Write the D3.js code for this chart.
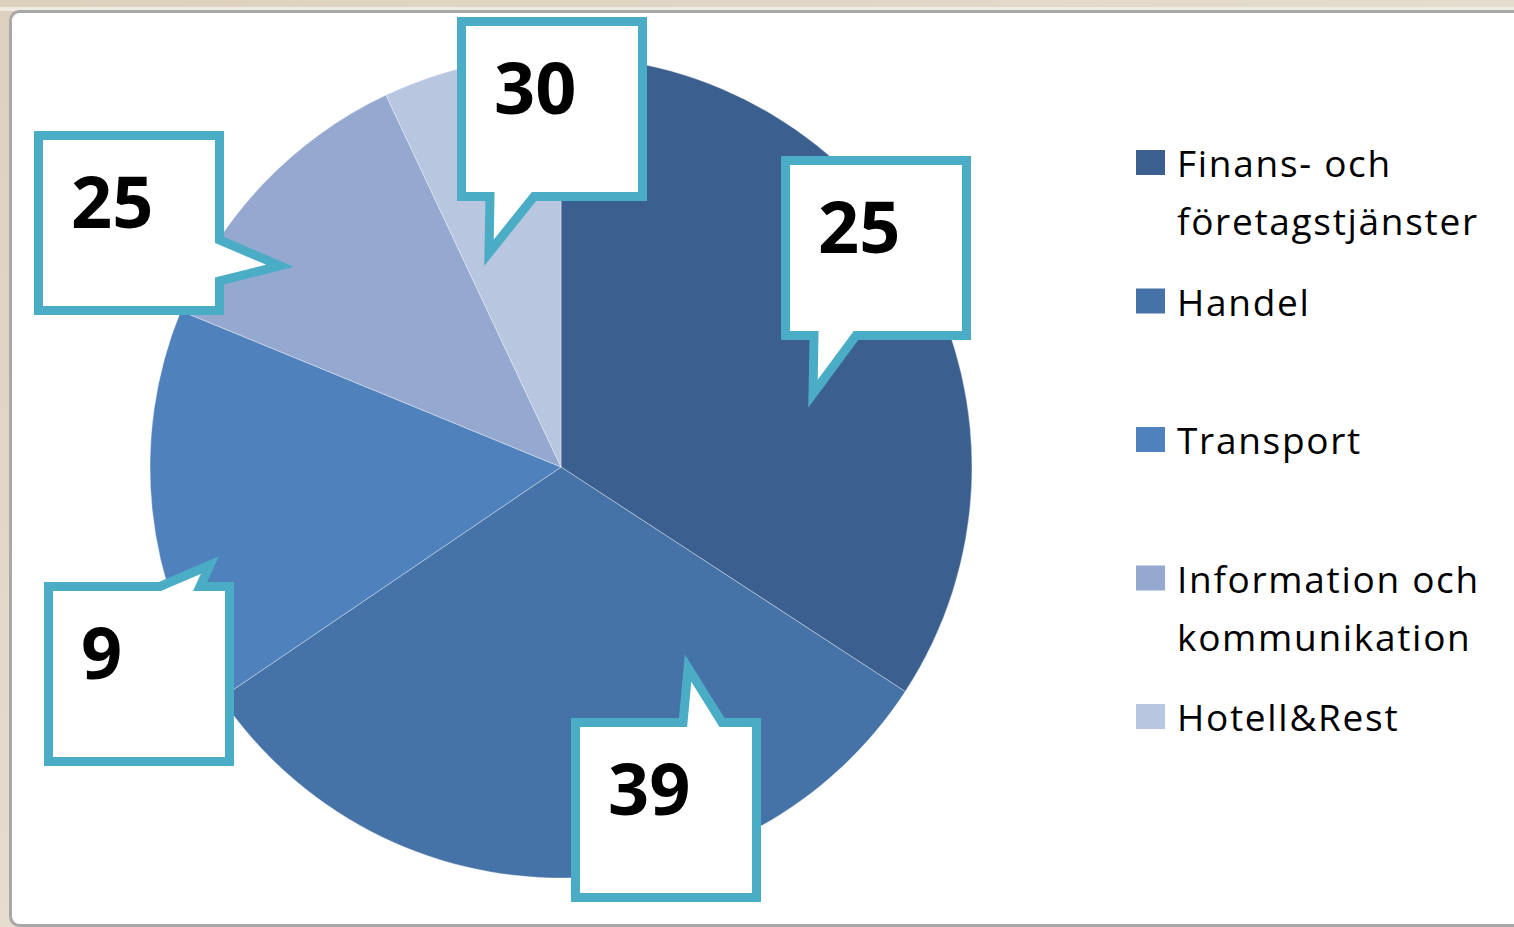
<!DOCTYPE html>
<html>
<head>
<meta charset="utf-8">
<script src="https://cdn.jsdelivr.net/npm/d3@7"></script>
<style>
  html, body { margin: 0; padding: 0; background: #e4d9ca; }
  svg { display: block; }
</style>
</head>
<body>
<svg id="chart" width="1514" height="927"></svg>
<script>
// ---- data ----
const categories = ["Finans- och företagstjänster", "Handel", "Transport", "Information och kommunikation", "Hotell&Rest"];
const legendLines = [["Finans- och", "företagstjänster"], ["Handel"], ["Transport"], ["Information och", "kommunikation"], ["Hotell&Rest"]];
const shares = [34.2, 31.3, 15.7, 11.8, 7.0];
const calloutLabels = ["25", "39", "9", "25", "30"];
const colors = ["#3b5f8e", "#4572a7", "#4f81bd", "#95a9d0", "#b9c6e0"];

// ---- layout (callout tip in polar coords of the pie, box offset from tip) ----
const calloutLayout = [
  { angle: 73.8,  rf: 0.640, off: [-32, -238], side: "bottom", base: [33, 75] },
  { angle: 147.7, rf: 0.580, off: [-117, 50],  side: "top",    base: [112, 151] },
  { angle: 254.4, rf: 0.889, off: [-166, 17],  side: "top",    base: [116, 156] },
  { angle: 305.6, rf: 0.843, off: [-246, -135], side: "right", base: [109, 150] },
  { angle: 341.4, rf: 0.551, off: [-32, -236], side: "bottom", base: [33, 77] }
];

const W = 1514, H = 927;
const svg = d3.select("#chart");
const defs = svg.append("defs");
const g = defs.append("linearGradient").attr("id", "bg").attr("x1", "0").attr("y1", "0").attr("x2", "1").attr("y2", "1");
g.append("stop").attr("offset", "0").attr("stop-color", "#ddd0bd");
g.append("stop").attr("offset", "1").attr("stop-color", "#eee8e0");
svg.append("rect").attr("width", W).attr("height", H).attr("fill", "url(#bg)");
svg.append("rect").attr("x", 0).attr("y", 7).attr("width", W).attr("height", 4).attr("fill", "#eeeae4");

// chart area
svg.append("rect")
  .attr("x", 10.5).attr("y", 11.5).attr("width", 1530).attr("height", 914)
  .attr("rx", 9).attr("ry", 9)
  .attr("fill", "#ffffff").attr("stroke", "#a8a8a8").attr("stroke-width", 3);

// pie
const cx = 561, cy = 467, R = 411;
const pie = d3.pie().sort(null).value(d => d).startAngle(0).endAngle(2 * Math.PI);
const arc = d3.arc().innerRadius(0).outerRadius(R);
const color = d3.scaleOrdinal().domain(categories).range(colors);
const arcs = pie(shares);
const pg = svg.append("g").attr("transform", `translate(${cx},${cy})`);
pg.selectAll("path").data(arcs).enter().append("path")
  .attr("d", arc)
  .attr("fill", (d, i) => color(categories[i]))
  .attr("stroke", "rgba(255,255,255,0.35)")
  .attr("stroke-width", 1);

// callouts
const BW = 190, BH = 184, SW = 9;
const cg = svg.append("g");
calloutLayout.forEach((c, i) => {
  const a = c.angle * Math.PI / 180;
  const tx = cx + 410 * c.rf * Math.sin(a);
  const ty = cy - 410 * c.rf * Math.cos(a);
  const bx = Math.round(tx + c.off[0]), by = Math.round(ty + c.off[1]);
  const x0 = bx + SW / 2, y0 = by + SW / 2, x1 = bx + BW - SW / 2, y1 = by + BH - SW / 2;
  const p = d3.path();
  p.moveTo(x0, y0);
  if (c.side === "top") { p.lineTo(bx + c.base[0], y0); p.lineTo(tx, ty); p.lineTo(bx + c.base[1], y0); }
  p.lineTo(x1, y0);
  if (c.side === "right") { p.lineTo(x1, by + c.base[0]); p.lineTo(tx, ty); p.lineTo(x1, by + c.base[1]); }
  p.lineTo(x1, y1);
  if (c.side === "bottom") { p.lineTo(bx + c.base[1], y1); p.lineTo(tx, ty); p.lineTo(bx + c.base[0], y1); }
  p.lineTo(x0, y1);
  p.closePath();
  cg.append("path").attr("d", p.toString())
    .attr("fill", "#ffffff").attr("stroke", "#4bacc6").attr("stroke-width", SW)
    .attr("stroke-linejoin", "miter").attr("stroke-miterlimit", 10);
  cg.append("text")
    .attr("x", bx + 37).attr("y", by + 97)
    .attr("font-family", "'Open Sans', sans-serif").attr("font-weight", 700)
    .attr("font-size", 72).attr("fill", "#000")
    .text(calloutLabels[i]);
});

// legend
const lg = svg.append("g");
const legendX = 1136, textX = 1177, firstBase = 177, step = 138.5, lineH = 58;
categories.forEach((cat, i) => {
  const base = firstBase + i * step;
  lg.append("rect").attr("x", legendX).attr("y", base - 27).attr("width", 29).attr("height", 25)
    .attr("fill", color(cat));
  const t = lg.append("text").attr("x", textX).attr("y", base)
    .attr("font-family", "'Open Sans', sans-serif").attr("font-size", 37)
    .attr("letter-spacing", 1.7).attr("fill", "#000");
  legendLines[i].forEach((ln, j) => {
    t.append("tspan").attr("x", textX).attr("y", base + j * lineH).text(ln);
  });
});
</script>
</body>
</html>
